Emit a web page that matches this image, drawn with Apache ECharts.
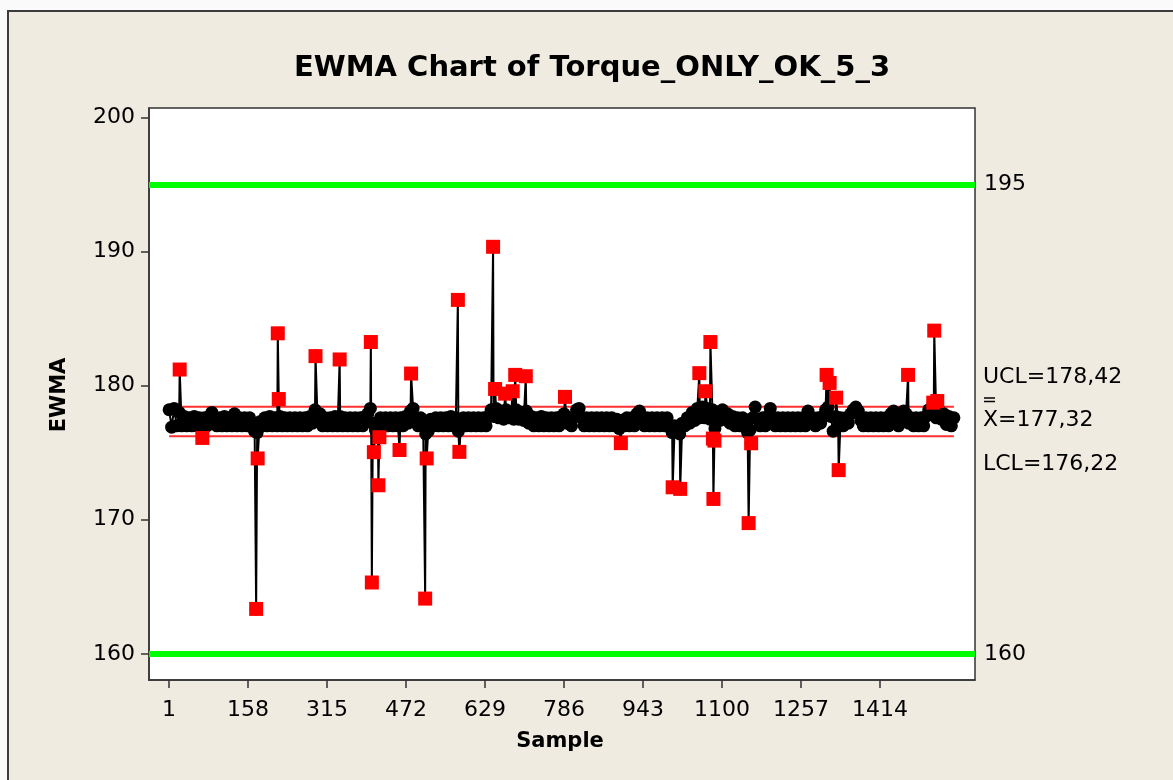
<!DOCTYPE html>
<html>
<head>
<meta charset="utf-8">
<script src="https://cdn.jsdelivr.net/npm/echarts@6/dist/echarts.min.js"></script>
<style>
html,body{margin:0;padding:0;background:#fafafa;}
#wrap{position:relative;width:1173px;height:780px;overflow:hidden;background:#fafafa;}
#frame{position:absolute;left:7px;top:10px;width:1200px;height:800px;background:#f0ebe1;border-left:2px solid #3c3c3c;border-top:2px solid #3c3c3c;}
#c{position:absolute;left:0;top:0;width:1173px;height:780px;}
</style>
</head>
<body>
<div id="wrap"><div id="frame"></div><div id="c"></div></div>
<script>
// ---- data ----
const baseStart = 1;
const baseStep = 5;
const baselineValues = [
  178.2,176.9,178.3,177.0,178.0,177.0,177.7,177.0,177.6,177.0,177.7,177.0,177.6,177.0,177.6,177.0,177.7,178.0,177.6,177.0,
  177.6,177.0,177.7,177.0,177.6,177.0,177.9,177.0,177.6,177.0,177.6,177.0,177.6,176.9,176.6,176.5,177.3,177.0,177.6,177.0,
  177.7,177.0,177.6,177.0,177.7,177.0,177.6,177.0,177.6,177.0,177.6,177.0,177.6,177.0,177.6,177.0,177.7,177.2,178.2,177.6,
  177.9,177.0,177.6,177.0,177.6,177.0,177.7,177.0,177.7,177.0,177.6,177.0,177.6,177.0,177.6,177.0,177.6,177.0,177.7,177.9,
  178.3,177.2,176.7,177.0,177.6,177.0,177.6,177.0,177.6,177.0,177.6,177.0,177.6,177.0,177.7,177.2,178.1,178.3,177.6,177.0,
  177.6,177.0,176.4,176.6,177.5,177.0,177.6,177.0,177.6,177.0,177.6,177.0,177.7,177.0,177.6,176.6,177.0,177.6,177.0,177.6,
  177.0,177.6,177.0,177.6,177.0,177.6,177.0,177.7,178.2,177.7,178.3,177.6,178.1,177.5,178.2,177.6,178.0,177.5,178.2,177.5,
  178.0,177.4,178.1,177.2,177.7,177.0,177.6,177.0,177.7,177.0,177.6,177.0,177.6,177.0,177.6,177.0,177.7,177.9,177.2,177.6,
  177.0,177.7,178.2,178.3,177.6,177.0,177.6,177.0,177.6,177.0,177.6,177.0,177.6,177.0,177.6,177.0,177.6,177.0,177.5,176.8,
  177.4,177.0,177.6,177.0,177.6,177.0,177.9,178.1,177.6,177.0,177.6,177.0,177.6,177.0,177.6,177.0,177.6,177.0,177.6,176.9,
  176.5,177.0,176.8,176.4,177.2,177.0,177.6,177.2,178.0,177.4,178.3,177.6,178.4,177.6,178.3,177.5,178.2,176.8,178.0,177.4,
  178.2,177.5,177.9,177.2,177.7,177.0,177.6,177.0,177.6,177.0,176.5,176.7,177.6,178.4,177.5,177.0,177.6,177.0,177.7,178.3,
  177.6,177.0,177.6,177.0,177.6,177.0,177.6,177.0,177.6,177.0,177.6,177.0,177.6,177.0,178.1,177.4,177.6,177.0,177.6,177.2,
  177.7,178.2,178.4,177.7,176.6,177.7,177.0,177.6,177.0,177.6,177.2,177.9,178.2,178.4,178.1,177.4,177.0,177.6,177.0,177.6,
  177.0,177.6,177.0,177.6,177.0,177.6,177.0,177.9,178.1,177.4,177.0,177.6,178.1,177.9,177.2,177.6,177.0,177.6,177.0,177.6,
  177.0,177.7,178.2,177.9,178.3,177.6,178.2,177.5,177.9,177.1,177.7,177.0,177.6
];
const spikeSamples = [22,67,174,177,217,219,292,340,402,404,408,417,419,459,482,510,513,575,578,645,649,669,684,689,710,788,899,1002,1017,1055,1067,1077,1082,1083,1085,1153,1158,1308,1314,1327,1332,1470,1520,1522,1528];
const spikeValues  = [181.2,176.1,163.35,174.57,183.9,179.0,182.2,181.95,183.25,165.32,175.04,172.57,176.15,175.2,180.9,164.12,174.57,186.39,175.06,190.35,179.75,179.4,179.58,180.8,180.7,179.16,175.71,172.42,172.3,180.93,179.58,183.25,176.05,171.55,175.9,169.75,175.7,180.8,180.2,179.1,173.7,180.8,178.73,184.1,178.85];
const UCL = 178.42, CL = 177.32, LCL = 176.22;
const specUpper = 195, specLower = 160;
const firstSample = 1, lastSample = 1561;
const xTicks = [1,158,315,472,629,786,943,1100,1257,1414];
const yTicks = [160,170,180,190,200];

// ---- build ----
const basePts = baselineValues.map((v, i) => [baseStart + i * baseStep, v]);
const spikePts = spikeSamples.map((s, i) => [s, spikeValues[i]]);
const allPts = basePts.concat(spikePts).sort((a, b) => a[0] - b[0]);
const fmt = v => v.toFixed(2).replace('.', ',');

const FONT = 'DejaVu Sans';
const chart = echarts.init(document.getElementById('c'), null, {renderer: 'canvas'});
chart.setOption({
  animation: false,
  backgroundColor: 'transparent',
  grid: {left: 149, top: 108, right: 198, bottom: 100, show: true, backgroundColor: '#ffffff', borderColor: '#333333', borderWidth: 1.5},
  xAxis: {
    type: 'value', min: -39, max: 1603,
    axisLine: {show: true, onZero: false, lineStyle: {color: '#333333', width: 1.5}},
    axisTick: {show: true, length: 8, customValues: xTicks, lineStyle: {color: '#333333', width: 1.5}},
    axisLabel: {customValues: xTicks, formatter: v => String(v), fontSize: 22, color: '#000', fontFamily: FONT, margin: 19},
    splitLine: {show: false}
  },
  yAxis: {
    type: 'value', min: 158.05, max: 200.7,
    axisLine: {show: true, onZero: false, lineStyle: {color: '#333333', width: 1.5}},
    axisTick: {show: true, length: 8, customValues: yTicks, lineStyle: {color: '#333333', width: 1.5}},
    axisLabel: {customValues: yTicks, formatter: v => String(v), fontSize: 22, color: '#000', fontFamily: FONT, margin: 14},
    splitLine: {show: false}
  },
  series: [
    {
      name: 'UCL', type: 'line', symbol: 'none', z: 2,
      data: [[firstSample, UCL], [lastSample, UCL]],
      lineStyle: {color: '#ff3030', width: 2},
      markLine: {
        silent: true, symbol: 'none',
        lineStyle: {color: '#00ff00', width: 6, type: 'solid'},
        label: {show: true, position: 'end', distance: 9, fontSize: 22, color: '#000', fontFamily: FONT, formatter: p => String(p.value)},
        data: [{yAxis: specUpper}, {yAxis: specLower}]
      }
    },
    {
      name: 'LCL', type: 'line', symbol: 'none', z: 2,
      data: [[firstSample, LCL], [lastSample, LCL]],
      lineStyle: {color: '#ff3030', width: 2}
    },
    {
      name: 'EWMA', type: 'line', z: 3, symbol: 'none',
      data: allPts,
      lineStyle: {color: '#000', width: 2}
    },
    {
      name: 'EWMA points', type: 'scatter', z: 4, large: false,
      data: allPts,
      symbol: 'circle', symbolSize: 13,
      itemStyle: {color: '#000', opacity: 1}
    },
    {
      name: 'Out of control', type: 'scatter', z: 5, large: false,
      data: spikePts,
      symbol: 'rect', symbolSize: 14,
      itemStyle: {color: '#ff0000', opacity: 1}
    }
  ],
  graphic: [
    {type: 'text', x: 592, y: 68, style: {text: 'EWMA Chart of Torque_ONLY_OK_5_3', textAlign: 'center', textVerticalAlign: 'middle', fontSize: 29, fontWeight: 'bold', fontFamily: FONT, fill: '#000'}},
    {type: 'text', rotation: Math.PI / 2, x: 60, y: 395, style: {text: 'EWMA', textAlign: 'center', textVerticalAlign: 'middle', fontSize: 21, fontWeight: 'bold', fontFamily: FONT, fill: '#000'}},
    {type: 'text', x: 560, y: 742, style: {text: 'Sample', textAlign: 'center', textVerticalAlign: 'middle', fontSize: 21, fontWeight: 'bold', fontFamily: FONT, fill: '#000'}},
    {type: 'text', x: 983, y: 377, style: {text: 'UCL=' + fmt(UCL), textAlign: 'left', textVerticalAlign: 'middle', fontSize: 22, fontFamily: FONT, fill: '#000'}},
    {type: 'text', x: 983, y: 420, style: {text: 'X=' + fmt(CL), textAlign: 'left', textVerticalAlign: 'middle', fontSize: 22, fontFamily: FONT, fill: '#000'}},
    {type: 'line', shape: {x1: 984, y1: 398, x2: 995, y2: 398}, style: {stroke: '#000', lineWidth: 1.5}},
    {type: 'line', shape: {x1: 984, y1: 401.5, x2: 995, y2: 401.5}, style: {stroke: '#000', lineWidth: 1.5}},
    {type: 'text', x: 983, y: 464, style: {text: 'LCL=' + fmt(LCL), textAlign: 'left', textVerticalAlign: 'middle', fontSize: 22, fontFamily: FONT, fill: '#000'}}
  ]
});
</script>
</body>
</html>
